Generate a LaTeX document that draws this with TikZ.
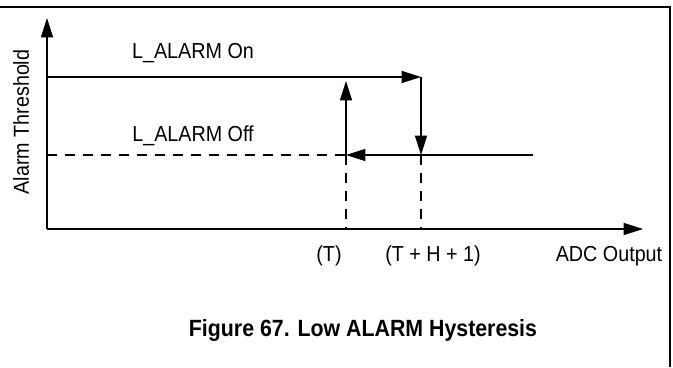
\documentclass[tikz,border=0pt]{standalone}
\usepackage{fontspec}
\setmainfont{Liberation Sans}
\usetikzlibrary{arrows.meta}
\newcommand{\tallbox}[1]{\scalebox{1}[1.1]{#1}}
\begin{document}
\begin{tikzpicture}[x=0.75pt,y=-0.75pt,line width=0.9pt,
  >={Triangle[length=14.5pt,width=9pt]},
  lbl/.style={font=\fontsize{14.8pt}{18pt}\selectfont,inner sep=0pt},
  dsh/.style={dash pattern=on 7.5pt off 6pt}]
\useasboundingbox (0,0) rectangle (673,367);
% frame lines
\draw[line width=0.8pt] (0,7) -- (670,7) -- (670,367);
% axes
\coordinate (O) at (47,229);
\coordinate (ytop) at (47,18);
\coordinate (xend) at (643,229);
\draw[->] (O) -- (ytop);
\draw[->] (O) -- (xend);
% levels
\coordinate (onL) at (47,77);
\coordinate (onR) at (421,77);
\coordinate (offL) at (47,155);
\coordinate (offM) at (337,155);
\coordinate (offR) at (533,155);
\coordinate (T) at (346,155);
\coordinate (TH) at (421,155);
\coordinate (Tup) at (346,81);
\coordinate (Tax) at (346,229);
\coordinate (THax) at (421,229);
\draw[->] (onL) -- (onR);
\draw[->] (onR) -- (TH);
\draw[->] (offR) -- (T);
\draw (T) -- (offM);
\draw[dsh] (offL) -- (offM);
\draw[->] (T) -- (Tup);
\draw[dsh] (T) -- (Tax);
\draw[dsh] (TH) -- (THax);
% labels
\node[lbl] (lon) at (193,53) {\tallbox{L\_ALARM On}};
\node[lbl] (loff) at (193,136) {\tallbox{L\_ALARM Off}};
\node[lbl,rotate=90] (ylab) at (21,122) {\tallbox{Alarm Threshold}};
\node[lbl] (lT) at (329,256) {\tallbox{(T)}};
\node[lbl] (lTH) at (433,256) {\tallbox{(T + H + 1)}};
\node[lbl] (xlab) at (609,256) {\tallbox{ADC Output}};
\node[font=\bfseries\fontsize{16pt}{19pt}\selectfont,inner sep=0pt] (cap) at (363,330) {\tallbox{Figure 67. Low ALARM Hysteresis}};
\end{tikzpicture}
\end{document}
